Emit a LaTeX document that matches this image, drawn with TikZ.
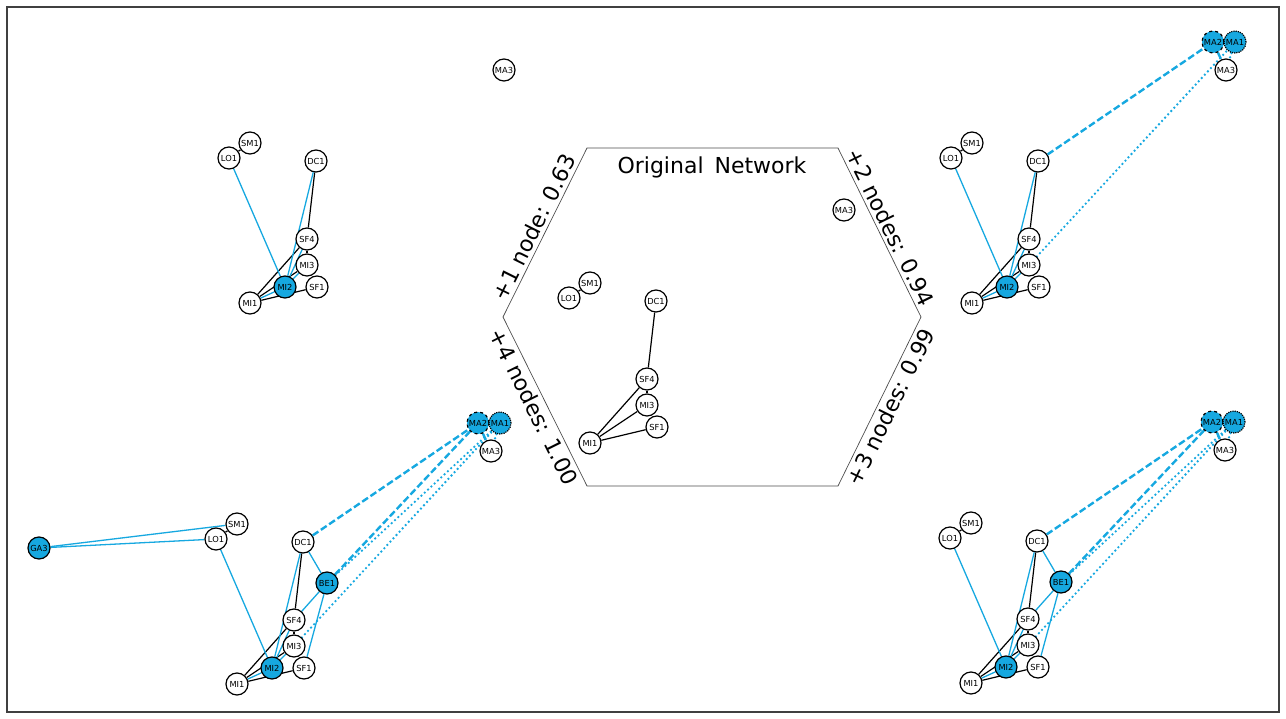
\documentclass[tikz,border=0pt]{standalone}
\usepackage{fontspec}
\setmainfont{DejaVu Sans}
\usetikzlibrary{backgrounds}

\definecolor{netblue}{RGB}{22,168,224}

\tikzset{
	site/.style={circle, draw=black, fill=white, line width=1.2pt, minimum size=22pt, inner sep=0pt, font=\fontsize{8.3}{9}\selectfont},
	newsite/.style={site, fill=netblue},
	link/.style={line width=1.2pt},
	newlink/.style={netblue, line width=1.3pt},
	dashlink/.style={netblue, line width=2.4pt, dash pattern=on 7pt off 3pt},
	dotlink/.style={netblue, line width=2.6pt, line cap=round, dash pattern=on 0pt off 4.5pt},
	steplabel/.style={font=\fontsize{22}{24}\selectfont, sloped},
}

\begin{document}
\begin{tikzpicture}[x=1pt, y=-1pt]
	\useasboundingbox (0,0) rectangle (1286,719);
	\draw[line width=2pt, black!75] (7,7) rectangle (1279,712);

	% nodes of the original network, placed as in the +2 panel
	\def\basenet#1{
		\node[site] (#1SM1) at (972,143) {SM1};
		\node[site] (#1LO1) at (951,158) {LO1};
		\node[site] (#1DC1) at (1038,161) {DC1};
		\node[site] (#1SF4) at (1029,239) {SF4};
		\node[site] (#1MI3) at (1029,265) {MI3};
		\node[site] (#1SF1) at (1039,287) {SF1};
		\node[site] (#1MI1) at (972,303) {MI1};
		\node[site] (#1MA3) at (1226,70) {MA3};
	}
	\def\baselinks#1{
		\draw[link] (#1SM1) -- (#1LO1);
		\draw[link] (#1DC1) -- (#1SF4);
		\draw[link] (#1SF4) -- (#1MI3);
		\draw[link] (#1MI1) -- (#1SF4);
		\draw[link] (#1MI1) -- (#1MI3);
		\draw[link] (#1MI1) -- (#1SF1);
	}
	\def\milinks#1{
		\draw[newlink] (#1LO1) -- (#1MI2);
		\draw[newlink] (#1DC1) -- (#1MI2);
		\draw[newlink] (#1SF4) -- (#1MI2);
		\draw[newlink] (#1MI3) -- (#1MI2);
		\draw[newlink] (#1MI1) -- (#1MI2);
	}
	\def\malinks#1{
		\draw[dashlink] (#1DC1) -- (#1MA2);
		\draw[dotlink] (#1MI3) -- (#1MA1);
		\draw[dashlink] (#1MA2) -- (#1MA3);
		\draw[dotlink] (#1MA1) -- (#1MA3);
	}
	\def\belinks#1{
		\draw[newlink] (#1DC1) -- (#1BE1);
		\draw[newlink] (#1BE1) -- (#1SF4);
		\draw[newlink] (#1BE1) -- (#1SF1);
		\draw[dashlink] (#1BE1) -- (#1MA2);
		\draw[dotlink] (#1BE1) -- (#1MA1);
	}

	% hexagon in the middle
	\coordinate (h1) at (587,148);
	\coordinate (h2) at (838,148);
	\coordinate (h3) at (921,317);
	\coordinate (h4) at (838,486);
	\coordinate (h5) at (587,486);
	\coordinate (h6) at (503,317);
	\draw[line width=0.7pt, black!70] (h1) -- (h2) -- (h3) -- (h4) -- (h5) -- (h6) -- cycle;

	\node[font=\fontsize{22}{24}\selectfont] (title) at (712,167) {Original\hspace{4pt} Network};
	\path (h6) -- (h1) node[midway, above, steplabel] (lab1) {+1 node: 0.63};
	\path (h2) -- (h3) node[midway, above, steplabel] (lab2) {+2 nodes: 0.94};
	\path (h4) -- (h3) node[midway, below, steplabel] (lab3) {+3 nodes: 0.99};
	\path (h6) -- (h5) node[midway, below, steplabel] (lab4) {+4 nodes: 1.00};

	% original
	\begin{scope}[shift={(-382,140)}]
		\basenet{c-}
	\end{scope}

	% +1 node
	\begin{scope}[shift={(-722,0)}]
		\basenet{a-}
		\node[newsite] (a-MI2) at (1007,287) {MI2};
	\end{scope}

	% +2 nodes
	\basenet{b-}
	\node[newsite] (b-MI2) at (1007,287) {MI2};
	\node[newsite, dashed] (b-MA2) at (1213,42) {MA2};
	\node[newsite, densely dotted] (b-MA1) at (1235,42) {MA1};

	% +3 nodes
	\begin{scope}[shift={(-1,380)}]
		\basenet{d-}
		\node[newsite] (d-MI2) at (1007,287) {MI2};
		\node[newsite] (d-BE1) at (1062,202) {BE1};
		\node[newsite, dashed] (d-MA2) at (1213,42) {MA2};
		\node[newsite, densely dotted] (d-MA1) at (1235,42) {MA1};
	\end{scope}

	% +4 nodes
	\begin{scope}[shift={(-735,381)}]
		\basenet{e-}
		\node[newsite] (e-MI2) at (1007,287) {MI2};
		\node[newsite] (e-BE1) at (1062,202) {BE1};
		\node[newsite, dashed] (e-MA2) at (1213,42) {MA2};
		\node[newsite, densely dotted] (e-MA1) at (1235,42) {MA1};
		\node[newsite] (e-GA3) at (774,167) {GA3};
	\end{scope}

	\begin{scope}[on background layer]
		\baselinks{c-}
		\baselinks{a-} \milinks{a-}
		\baselinks{b-} \milinks{b-} \malinks{b-}
		\baselinks{d-} \milinks{d-} \malinks{d-} \belinks{d-}
		\baselinks{e-} \milinks{e-} \malinks{e-} \belinks{e-}
		\draw[newlink] (e-GA3) -- (e-SM1);
		\draw[newlink] (e-GA3) -- (e-LO1);
	\end{scope}
\end{tikzpicture}
\end{document}
